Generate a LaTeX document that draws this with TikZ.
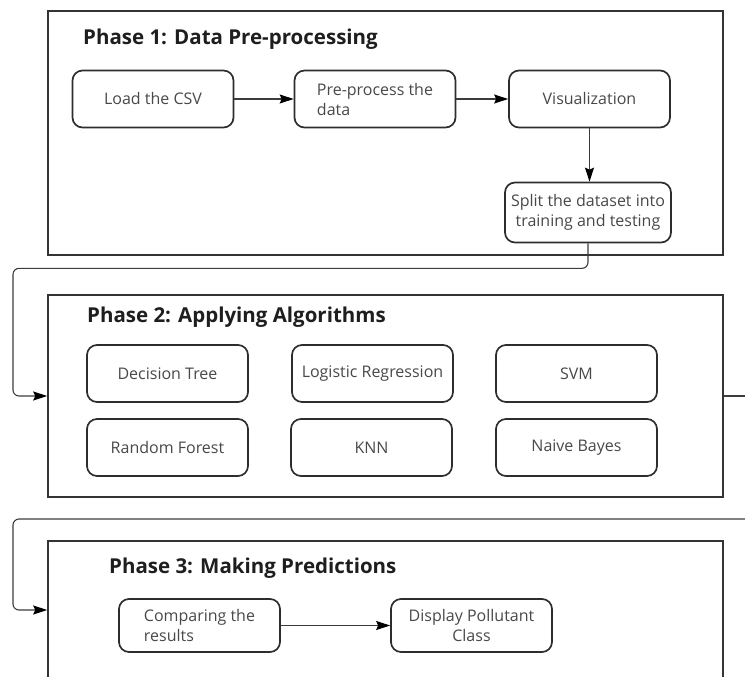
\documentclass[tikz,border=0pt]{standalone}
\usepackage{fontspec}
\setmainfont{Open Sans}
\usepackage{tikz}
\usetikzlibrary{arrows.meta}
\definecolor{framegray}{RGB}{52, 52, 52}
\definecolor{boxgray}{RGB}{45, 45, 45}
\definecolor{textgray}{RGB}{72, 72, 72}
\definecolor{titleblack}{RGB}{30, 30, 30}
\definecolor{linkgray}{RGB}{60, 60, 60}

\tikzset{
    phaseframe/.style={draw=framegray, line width=1.6pt, minimum width=675pt, inner sep=0pt},
    stepbox/.style={draw=boxgray, line width=1.7pt, rounded corners=10pt, minimum width=161pt,
        minimum height=57pt, text=textgray, align=center, inner sep=2pt,
        font=\fontsize{16}{20}\selectfont},
    phasetitle/.style={anchor=base west, text=titleblack, inner sep=0pt,
        font=\fontsize{20.5}{24}\selectfont\bfseries},
    flow/.style={draw=linkgray, line width=1.1pt,
        -{Stealth[length=14pt, width=9pt, inset=2pt, color=black]}},
    link/.style={flow, rounded corners=6pt}
}

\begin{document}
\begin{tikzpicture}[x=1pt, y=-1pt]
    \clip (0,0) rectangle (745,677);

    % Phase 1: data pre-processing
    \node[phaseframe, minimum height=244pt] (p1) at (385.5,133) {};
    \node[phasetitle] (t1) at (83,45) {Phase 1: Data Pre-processing};
    \node[stepbox] (load) at (153,99) {Load the CSV};
    \node[stepbox, align=left] (prep) at (375,99) {Pre-process the\\ data};
    \node[stepbox] (vis) at (589.5,99) {Visualization};
    \node[stepbox, minimum width=166pt, minimum height=60pt] (split) at (588,212.5) {Split the dataset into\\training and testing};
    \draw[flow] (load) -- (prep);
    \draw[flow] (prep) -- (vis);
    \draw[flow] (vis) -- (vis |- split.north);

    % Phase 2: the six classifiers
    \node[phaseframe, minimum height=202pt] (p2) at (385.5,396) {};
    \node[phasetitle] (t2) at (87,322) {Phase 2: Applying Algorithms};
    \node[stepbox] (dt) at (167.5,373.5) {Decision Tree};
    \node[stepbox] (lr) at (372.5,373.5) {Logistic Regression};
    \node[stepbox] (svm) at (576.5,373.5) {SVM};
    \node[stepbox] (rf) at (167.5,447.5) {Random Forest};
    \node[stepbox] (knn) at (371.5,447.5) {KNN};
    \node[stepbox] (nb) at (576.5,447.5) {Naive Bayes};

    % Phase 3: predictions
    \node[phaseframe, minimum height=138pt] (p3) at (385.5,610) {};
    \node[phasetitle] (t3) at (109,573) {Phase 3: Making Predictions};
    \node[stepbox, align=left, minimum height=53pt] (cmp) at (199.5,625.5) {Comparing the\\results};
    \node[stepbox, minimum height=53pt] (disp) at (471.5,625.5) {Display Pollutant\\Class};
    \draw[flow] (cmp) -- (disp);

    % links between the phases
    \coordinate (out2) at (760,396);
    \coordinate (in3) at (760,519);
    \draw[link] (split.south) -- ++(0,25) -| (13,396) -- (p2.west);
    \draw[draw=linkgray, line width=1.1pt] (p2.east) -- (out2);
    \draw[link] (in3) -| (13,610) -- (p3.west);
\end{tikzpicture}
\end{document}
